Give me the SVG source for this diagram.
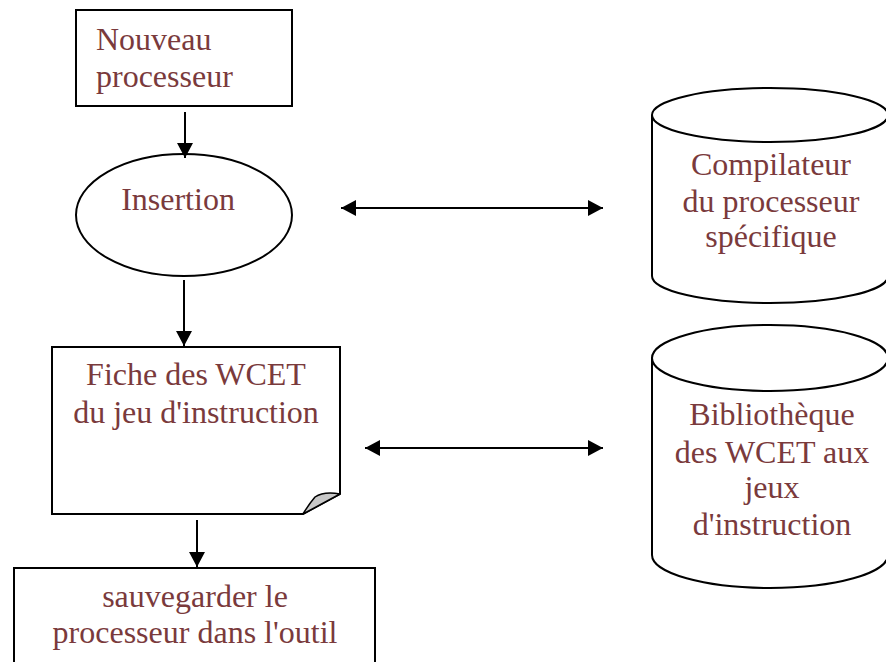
<svg xmlns="http://www.w3.org/2000/svg" width="886" height="662" viewBox="0 0 886 662">
  <style>
    .shape { fill: #ffffff; stroke: #000000; stroke-width: 2; }
    .label { font-family: "Liberation Serif", "Times New Roman", serif; font-size: 32px; fill: #7a3a3c; text-anchor: middle; }
    .conn { stroke: #000000; stroke-width: 2; fill: none; }
  </style>
  <defs>
    <marker id="head" viewBox="0 0 15 16" refX="15" refY="8" markerWidth="15" markerHeight="16" markerUnits="userSpaceOnUse" orient="auto-start-reverse">
      <path d="M0,0 L15,8 L0,16 Z" fill="#000000"/>
    </marker>
  </defs>

  <rect width="886" height="662" fill="#ffffff"/>

  <!-- Nouveau processeur -->
  <g id="node-nouveau">
    <rect class="shape" x="76" y="10" width="216" height="96"/>
    <text class="label" x="96" y="50" style="text-anchor:start">Nouveau</text>
    <text class="label" x="96" y="87" style="text-anchor:start">processeur</text>
  </g>

  <!-- Insertion -->
  <g id="node-insertion">
    <ellipse class="shape" cx="184" cy="215" rx="108" ry="61"/>
    <text class="label" x="178" y="210">Insertion</text>
  </g>

  <!-- Fiche des WCET -->
  <g id="node-fiche">
    <path class="shape" d="M52,347 H340 V494 L303,514 H52 Z"/>
    <path d="M303,514 L340,494 Q324,491 315,497 Q309,504 303,514 Z" fill="#c8c8c8" stroke="#000000" stroke-width="1.5" stroke-linejoin="round"/>
    <text class="label" x="196" y="385">Fiche des WCET</text>
    <text class="label" x="196" y="423">du jeu d'instruction</text>
  </g>

  <!-- sauvegarder -->
  <g id="node-sauvegarder">
    <rect class="shape" x="14" y="568" width="361" height="110"/>
    <text class="label" x="195" y="607">sauvegarder le</text>
    <text class="label" x="195" y="643">processeur dans l'outil</text>
  </g>

  <!-- Compilateur -->
  <g id="node-compilateur">
    <path class="shape" d="M652,115 V276 A118,27 0 0 0 888,276 V115"/>
    <ellipse class="shape" cx="770" cy="115" rx="118" ry="27"/>
    <text class="label" x="771" y="175">Compilateur</text>
    <text class="label" x="771" y="212">du processeur</text>
    <text class="label" x="771" y="247">spécifique</text>
  </g>

  <!-- Bibliotheque -->
  <g id="node-bibliotheque">
    <path class="shape" d="M652,358 V555 A118,33 0 0 0 888,555 V358"/>
    <ellipse class="shape" cx="770" cy="358" rx="118" ry="33"/>
    <text class="label" x="772" y="425">Bibliothèque</text>
    <text class="label" x="772" y="463">des WCET aux</text>
    <text class="label" x="772" y="498">jeux</text>
    <text class="label" x="772" y="535">d'instruction</text>
  </g>

  <!-- connectors -->
  <g id="connectors">
    <line class="conn" x1="185" y1="112" x2="185" y2="158" marker-end="url(#head)"/>
    <line class="conn" x1="184" y1="280" x2="184" y2="346" marker-end="url(#head)"/>
    <line class="conn" x1="197" y1="520" x2="197" y2="567" marker-end="url(#head)"/>
    <line class="conn" x1="341" y1="208" x2="603" y2="208" marker-start="url(#head)" marker-end="url(#head)"/>
    <line class="conn" x1="365" y1="448" x2="603" y2="448" marker-start="url(#head)" marker-end="url(#head)"/>
  </g>
</svg>
